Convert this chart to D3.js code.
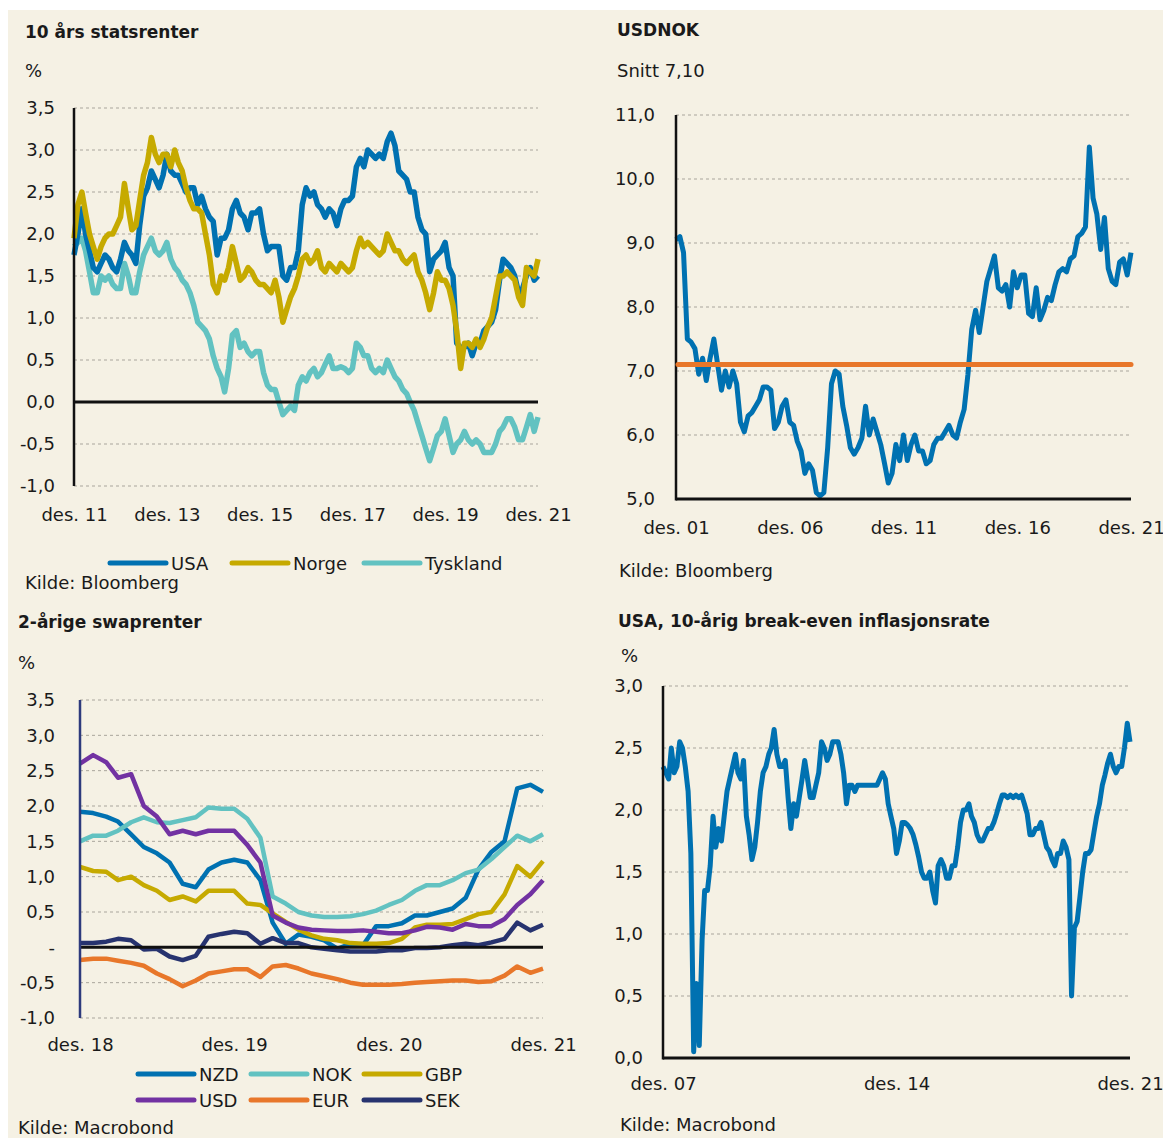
<!DOCTYPE html>
<html>
<head>
<meta charset="utf-8">
<script src="https://cdn.jsdelivr.net/npm/d3@7"></script>
<style>
body { margin: 0; background: #ffffff; }
svg text { font-family: "DejaVu Sans", sans-serif; fill: #1a1a1a; }
.title { font-weight: bold; font-size: 17px; }
.lbl { font-size: 18px; }
</style>
</head>
<body>
<div id="chart"></div>
<script>
// ---- 10 års statsrenter, monthly from des. 11 ----
var usa10 = [1.75,
  2.0,2.3,2.0,1.8,1.6,1.55,1.65,1.75,1.7,1.6,1.55,1.7,
  1.9,1.8,1.75,1.65,2.1,2.45,2.55,2.75,2.65,2.55,2.7,2.95,
  2.75,2.7,2.7,2.6,2.5,2.55,2.55,2.35,2.45,2.3,2.2,2.15,
  1.75,1.95,1.95,2.05,2.3,2.4,2.25,2.2,2.05,2.25,2.25,2.3,
  2.0,1.8,1.85,1.85,1.85,1.5,1.45,1.6,1.6,1.8,2.35,2.55,
  2.45,2.5,2.35,2.3,2.2,2.3,2.25,2.1,2.3,2.4,2.4,2.45,
  2.8,2.9,2.8,3.0,2.95,2.9,2.95,2.9,3.1,3.2,3.05,2.75,
  2.7,2.65,2.5,2.5,2.2,2.05,2.0,1.55,1.7,1.75,1.8,1.9,
  1.6,1.5,0.7,0.65,0.65,0.7,0.55,0.7,0.7,0.85,0.9,0.95,
  1.1,1.45,1.7,1.65,1.6,1.5,1.3,1.35,1.5,1.6,1.45,1.5];
var norge10 = [1.95,
  2.35,2.5,2.25,2.0,1.85,1.7,1.85,1.95,2.0,2.0,2.1,2.2,
  2.6,2.3,2.05,2.1,2.4,2.7,2.85,3.15,2.95,2.85,2.95,2.95,
  2.8,3.0,2.85,2.75,2.55,2.4,2.3,2.3,2.25,2.0,1.75,1.4,
  1.3,1.5,1.45,1.6,1.85,1.65,1.45,1.5,1.6,1.55,1.45,1.4,
  1.4,1.35,1.3,1.45,1.25,0.95,1.1,1.25,1.35,1.5,1.7,1.75,
  1.65,1.7,1.8,1.6,1.55,1.65,1.6,1.55,1.65,1.6,1.55,1.6,
  1.8,1.95,1.85,1.9,1.85,1.8,1.75,1.8,2.0,1.9,1.8,1.8,
  1.7,1.65,1.7,1.75,1.55,1.45,1.3,1.1,1.3,1.55,1.45,1.45,
  1.35,1.15,0.85,0.4,0.7,0.7,0.65,0.75,0.65,0.75,0.9,1.0,
  1.25,1.5,1.5,1.55,1.5,1.45,1.25,1.15,1.6,1.55,1.5,1.7];
var tyskland10 = [1.85,
  1.9,1.95,1.8,1.55,1.3,1.3,1.5,1.45,1.5,1.4,1.35,1.35,
  1.65,1.5,1.3,1.3,1.55,1.75,1.85,1.95,1.8,1.75,1.8,1.9,
  1.7,1.6,1.55,1.45,1.4,1.3,1.15,0.95,0.9,0.85,0.75,0.55,
  0.4,0.3,0.12,0.4,0.8,0.85,0.65,0.7,0.6,0.55,0.6,0.6,
  0.35,0.2,0.15,0.15,0.0,-0.15,-0.1,-0.05,-0.1,0.2,0.3,0.25,
  0.35,0.4,0.3,0.35,0.45,0.55,0.4,0.4,0.42,0.4,0.35,0.4,
  0.7,0.65,0.55,0.55,0.4,0.35,0.4,0.35,0.5,0.4,0.3,0.25,
  0.15,0.1,0.0,-0.1,-0.25,-0.4,-0.55,-0.7,-0.55,-0.4,-0.35,-0.2,
  -0.4,-0.6,-0.5,-0.45,-0.35,-0.45,-0.5,-0.45,-0.5,-0.6,-0.6,-0.6,
  -0.5,-0.35,-0.3,-0.2,-0.2,-0.3,-0.45,-0.45,-0.3,-0.15,-0.35,-0.18];
var rentYTicks = [-1, -0.5, 0, 0.5, 1, 1.5, 2, 2.5, 3, 3.5];
var rentXYears = [2011, 2013, 2015, 2017, 2019, 2021];
var rentXLabels = ["des. 11", "des. 13", "des. 15", "des. 17", "des. 19", "des. 21"];

// ---- USDNOK, every second month from des. 01 ----
var usdnok = [9.05,9.1,8.85,7.5,7.45,7.35,6.95,
  7.2,6.85,7.2,7.5,7.1,6.7,
  7.0,6.75,7.0,6.8,6.2,6.05,
  6.3,6.35,6.45,6.55,6.75,6.75,
  6.7,6.1,6.2,6.45,6.55,6.2,
  6.15,5.9,5.75,5.4,5.55,5.45,
  5.1,5.05,5.1,5.8,6.8,7.0,
  6.95,6.45,6.15,5.8,5.7,5.8,
  5.95,6.45,6.0,6.25,6.05,5.85,
  5.55,5.25,5.4,5.85,5.6,6.0,
  5.6,5.85,6.0,5.75,5.75,5.55,
  5.6,5.85,5.95,5.95,6.05,6.15,
  6.0,5.95,6.2,6.4,6.95,7.65,
  7.95,7.6,8.0,8.4,8.6,8.8,
  8.3,8.25,8.35,8.0,8.55,8.3,
  8.5,8.5,7.9,7.85,8.3,7.8,
  7.95,8.15,8.1,8.35,8.55,8.6,
  8.55,8.75,8.8,9.1,9.15,9.25,
  10.5,9.7,9.45,8.9,9.4,8.6,
  8.4,8.35,8.7,8.75,8.5,8.85];
var usdnokSnitt = 7.10;
var nokYTicks = [5, 6, 7, 8, 9, 10, 11];
var nokXYears = [2001, 2006, 2011, 2016, 2021];
var nokXLabels = ["des. 01", "des. 06", "des. 11", "des. 16", "des. 21"];

// ---- 2-årige swaprenter, monthly from des. 18 ----
var nzd = [1.92,
  1.9,1.85,1.78,1.6,1.42,1.33,1.2,0.9,0.85,1.1,1.2,1.24,
  1.2,0.95,0.35,0.05,0.18,0.15,0.1,-0.02,0.05,0.03,0.3,0.3,
  0.34,0.45,0.45,0.5,0.55,0.7,1.1,1.35,1.5,2.25,2.3,2.2];
var nok = [1.5,
  1.58,1.58,1.65,1.77,1.84,1.77,1.76,1.8,1.84,1.98,1.96,1.96,
  1.82,1.55,0.72,0.62,0.5,0.45,0.43,0.43,0.44,0.47,0.52,0.6,
  0.67,0.8,0.88,0.88,0.95,1.05,1.1,1.25,1.42,1.58,1.5,1.6];
var gbp = [1.14,
  1.08,1.07,0.95,1.0,0.88,0.8,0.67,0.72,0.65,0.8,0.8,0.8,
  0.62,0.6,0.48,0.36,0.25,0.17,0.12,0.1,0.06,0.05,0.05,0.06,
  0.12,0.28,0.32,0.32,0.33,0.4,0.47,0.5,0.75,1.15,1.0,1.22];
var usd = [2.6,
  2.72,2.62,2.4,2.45,2.0,1.85,1.6,1.65,1.6,1.65,1.65,1.65,
  1.45,1.2,0.45,0.35,0.28,0.25,0.24,0.23,0.23,0.24,0.22,0.2,
  0.2,0.24,0.29,0.28,0.25,0.33,0.3,0.3,0.4,0.6,0.75,0.95];
var eur = [-0.18,
  -0.16,-0.16,-0.19,-0.22,-0.26,-0.37,-0.45,-0.55,-0.47,-0.37,-0.34,-0.31,
  -0.31,-0.42,-0.27,-0.25,-0.3,-0.37,-0.41,-0.45,-0.5,-0.53,-0.53,-0.53,
  -0.52,-0.5,-0.49,-0.48,-0.47,-0.47,-0.49,-0.48,-0.4,-0.27,-0.36,-0.3];
var sek = [0.06,
  0.06,0.08,0.12,0.1,-0.03,-0.02,-0.13,-0.18,-0.12,0.15,0.19,0.22,
  0.2,0.05,0.13,0.06,0.06,0.0,-0.02,-0.04,-0.06,-0.06,-0.06,-0.04,
  -0.04,-0.01,-0.01,0.0,0.03,0.05,0.03,0.07,0.12,0.35,0.24,0.32];
var swapNames = ["NZD", "NOK", "GBP", "USD", "EUR", "SEK"];
var swapYTicks = [-1, -0.5, 0, 0.5, 1, 1.5, 2, 2.5, 3, 3.5];
var swapXYears = [2018, 2019, 2020, 2021];
var swapXLabels = ["des. 18", "des. 19", "des. 20", "des. 21"];

// ---- USA 10-årig break-even, monthly from des. 07 ----
var breakeven = [2.35,
  2.3,2.25,2.5,2.3,2.35,2.55,2.5,2.35,2.15,1.65,0.05,0.6,
  0.1,0.95,1.35,1.35,1.55,1.95,1.7,1.85,1.75,1.95,2.15,2.25,
  2.35,2.45,2.3,2.25,2.4,1.95,1.8,1.6,1.7,1.9,2.15,2.3,
  2.35,2.45,2.5,2.65,2.45,2.35,2.35,2.4,2.1,1.85,2.05,1.95,
  2.1,2.25,2.4,2.25,2.1,2.1,2.2,2.3,2.55,2.5,2.4,2.45,
  2.55,2.55,2.55,2.45,2.3,2.05,2.2,2.2,2.15,2.2,2.2,2.2,
  2.2,2.2,2.2,2.2,2.2,2.25,2.3,2.25,2.05,1.95,1.85,1.65,
  1.75,1.9,1.9,1.88,1.85,1.8,1.72,1.62,1.5,1.45,1.45,1.5,
  1.35,1.25,1.55,1.6,1.55,1.45,1.45,1.55,1.55,1.7,1.9,2.0,
  2.0,2.05,1.95,1.9,1.8,1.75,1.75,1.8,1.85,1.85,1.9,1.97,
  2.05,2.12,2.12,2.1,2.12,2.1,2.12,2.1,2.12,2.05,1.97,1.8,
  1.8,1.85,1.85,1.9,1.8,1.7,1.67,1.6,1.55,1.65,1.65,1.75,
  1.7,1.6,0.5,1.05,1.1,1.3,1.5,1.65,1.65,1.68,1.82,1.95,
  2.05,2.2,2.28,2.38,2.45,2.35,2.3,2.35,2.35,2.5,2.7,2.55];
var beYTicks = [0, 0.5, 1, 1.5, 2, 2.5, 3];
var beXYears = [2007, 2014, 2021];
var beXLabels = ["des. 07", "des. 14", "des. 21"];

// colours
var blue = "#0071b1", gold = "#c6aa00", teal = "#62c2c1", purple = "#7232a2",
    orange = "#e8772a", navy = "#27336f", gridColor = "#a9a59c";

function months(startYear, n, step) {
  return d3.range(n).map(function(i) { return new Date(startYear, 11 + i * step, 1); });
}
function dec(y) { return new Date(y, 11, 1); }
function comma(d) { return d3.format(".1f")(d).replace(".", ",").replace("\u2212", "-"); }

var svg = d3.select("#chart").append("svg")
    .attr("width", 1163)
    .attr("height", 1138);

svg.append("rect")
    .attr("x", 8).attr("y", 10)
    .attr("width", 1155).attr("height", 1128)
    .attr("fill", "#f5f1e4");

function drawPanel(p) {
  var g = svg.append("g");
  var x = d3.scaleTime().domain(p.xDomain).range([p.left, p.right]);
  var y = d3.scaleLinear().domain(p.yDomain).range([p.bottom, p.top]);

  // dotted gridlines
  g.selectAll()
    .data(p.yTicks.filter(function(t) { return t !== p.solidAt; }))
    .enter().append("line")
    .attr("x1", p.left).attr("x2", p.right)
    .attr("y1", function(d) { return y(d); })
    .attr("y2", function(d) { return y(d); })
    .attr("stroke", gridColor)
    .attr("stroke-width", 1)
    .attr("stroke-dasharray", "3,3");

  // y labels
  var ya = g.append("g")
    .attr("transform", "translate(" + p.left + ",0)")
    .call(d3.axisLeft(y).tickValues(p.yTicks).tickSize(0).tickPadding(p.yPad)
      .tickFormat(p.yFormat || comma));
  ya.select(".domain").remove();
  ya.attr("font-family", null).attr("font-size", 18).attr("color", "#1a1a1a");

  // x labels
  var tickDates = p.xYears.map(dec);
  var xa = g.append("g")
    .attr("transform", "translate(0," + p.bottom + ")")
    .call(d3.axisBottom(x).tickValues(tickDates).tickSize(0).tickPadding(p.xPad)
      .tickFormat(function(d, i) { return p.xLabels[i]; }));
  xa.select(".domain").remove();
  xa.attr("font-family", null).attr("font-size", 18).attr("color", "#1a1a1a");

  // series
  p.series.forEach(function(s) {
    var line = d3.line()
      .x(function(d, i) { return x(s.dates[i]); })
      .y(function(d) { return y(d); });
    g.append("path")
      .datum(s.values)
      .attr("d", line)
      .attr("fill", "none")
      .attr("stroke", s.color)
      .attr("stroke-width", s.width)
      .attr("stroke-linejoin", "round")
      .attr("stroke-linecap", s.cap || "butt");
  });

  // solid zero / base line
  g.append("line")
    .attr("x1", p.left).attr("x2", p.right)
    .attr("y1", y(p.solidAt)).attr("y2", y(p.solidAt))
    .attr("stroke", "#111").attr("stroke-width", 3);

  // vertical axis line
  g.append("line")
    .attr("x1", p.left).attr("x2", p.left)
    .attr("y1", p.top).attr("y2", p.bottom + (p.solidAt === p.yDomain[0] ? 1.5 : 0))
    .attr("stroke", p.axisColor || "#111").attr("stroke-width", 2.5);

  // overlay lines drawn after the axes
  (p.overlay || []).forEach(function(o) {
    g.append("line")
      .attr("x1", p.left + 2).attr("x2", p.right)
      .attr("y1", y(o.value)).attr("y2", y(o.value))
      .attr("stroke", o.color).attr("stroke-width", o.width)
      .attr("stroke-linecap", "round");
  });
}

function text(x, y, str, cls) {
  svg.append("text").attr("x", x).attr("y", y).attr("class", cls).text(str);
}

function legendItem(x, y, name, color) {
  svg.append("line")
    .attr("x1", x).attr("x2", x + 56)
    .attr("y1", y).attr("y2", y)
    .attr("stroke", color).attr("stroke-width", 5)
    .attr("stroke-linecap", "round");
  svg.append("text").attr("x", x + 61).attr("y", y + 6.5).attr("class", "lbl").text(name);
}

// ---- panel 1 ----
var rentDates = months(2011, usa10.length, 1);
drawPanel({
  left: 74, right: 538, top: 108, bottom: 486,
  xDomain: [dec(2011), dec(2021)], yDomain: [-1, 3.5],
  yTicks: rentYTicks, xYears: rentXYears, xLabels: rentXLabels,
  yPad: 19, xPad: 22, solidAt: 0,
  series: [
    {values: tyskland10, dates: rentDates, color: teal, width: 5.5},
    {values: usa10, dates: rentDates, color: blue, width: 5.5},
    {values: norge10, dates: rentDates, color: gold, width: 5.5}
  ]
});
text(25, 38, "10 års statsrenter", "title");
text(25, 77, "%", "lbl");
legendItem(110, 563, "USA", blue);
legendItem(232, 563, "Norge", gold);
legendItem(364, 563, "Tyskland", teal);
text(25, 589, "Kilde: Bloomberg", "lbl");

// ---- panel 2 ----
var nokDates = months(2001, usdnok.length, 2);
drawPanel({
  left: 676, right: 1131, top: 115, bottom: 499,
  xDomain: [dec(2001), dec(2021)], yDomain: [5, 11],
  yTicks: nokYTicks, xYears: nokXYears, xLabels: nokXLabels,
  yPad: 21, xPad: 22, solidAt: 5,
  series: [
    {values: usdnok, dates: nokDates, color: blue, width: 5}
  ],
  overlay: [{value: usdnokSnitt, color: orange, width: 5}]
});
text(617, 36, "USDNOK", "title");
text(617, 77, "Snitt 7,10", "lbl");
text(619, 577, "Kilde: Bloomberg", "lbl");

// ---- panel 3 ----
var swapDates = months(2018, nzd.length, 1);
var swapValues = [nzd, nok, gbp, usd, eur, sek];
var swapColors = [blue, teal, gold, purple, orange, navy];
drawPanel({
  left: 80, right: 543, top: 700, bottom: 1018,
  xDomain: [dec(2018), dec(2021)], yDomain: [-1, 3.5],
  yTicks: swapYTicks, xYears: swapXYears, xLabels: swapXLabels,
  yPad: 25, xPad: 20, solidAt: 0, axisColor: "#2d3a7c",
  yFormat: function(d) { return d === 0 ? "-" : comma(d); },
  series: swapValues.map(function(v, i) {
    return {values: v, dates: swapDates, color: swapColors[i], width: 4.5};
  })
});
text(18, 628, "2-årige swaprenter", "title");
text(18, 669, "%", "lbl");
swapNames.forEach(function(n, i) {
  legendItem(138 + (i % 3) * 113, 1074 + Math.floor(i / 3) * 26, n, swapColors[i]);
});
text(18, 1134, "Kilde: Macrobond", "lbl");

// ---- panel 4 ----
var beDates = months(2007, breakeven.length, 1);
drawPanel({
  left: 663, right: 1130, top: 686, bottom: 1058,
  xDomain: [dec(2007), dec(2021)], yDomain: [0, 3],
  yTicks: beYTicks, xYears: beXYears, xLabels: beXLabels,
  yPad: 20, xPad: 19, solidAt: 0,
  series: [
    {values: breakeven, dates: beDates, color: blue, width: 5}
  ]
});
text(618, 627, "USA, 10-årig break-even inflasjonsrate", "title");
text(621, 662, "%", "lbl");
text(620, 1131, "Kilde: Macrobond", "lbl");
</script>
</body>
</html>
